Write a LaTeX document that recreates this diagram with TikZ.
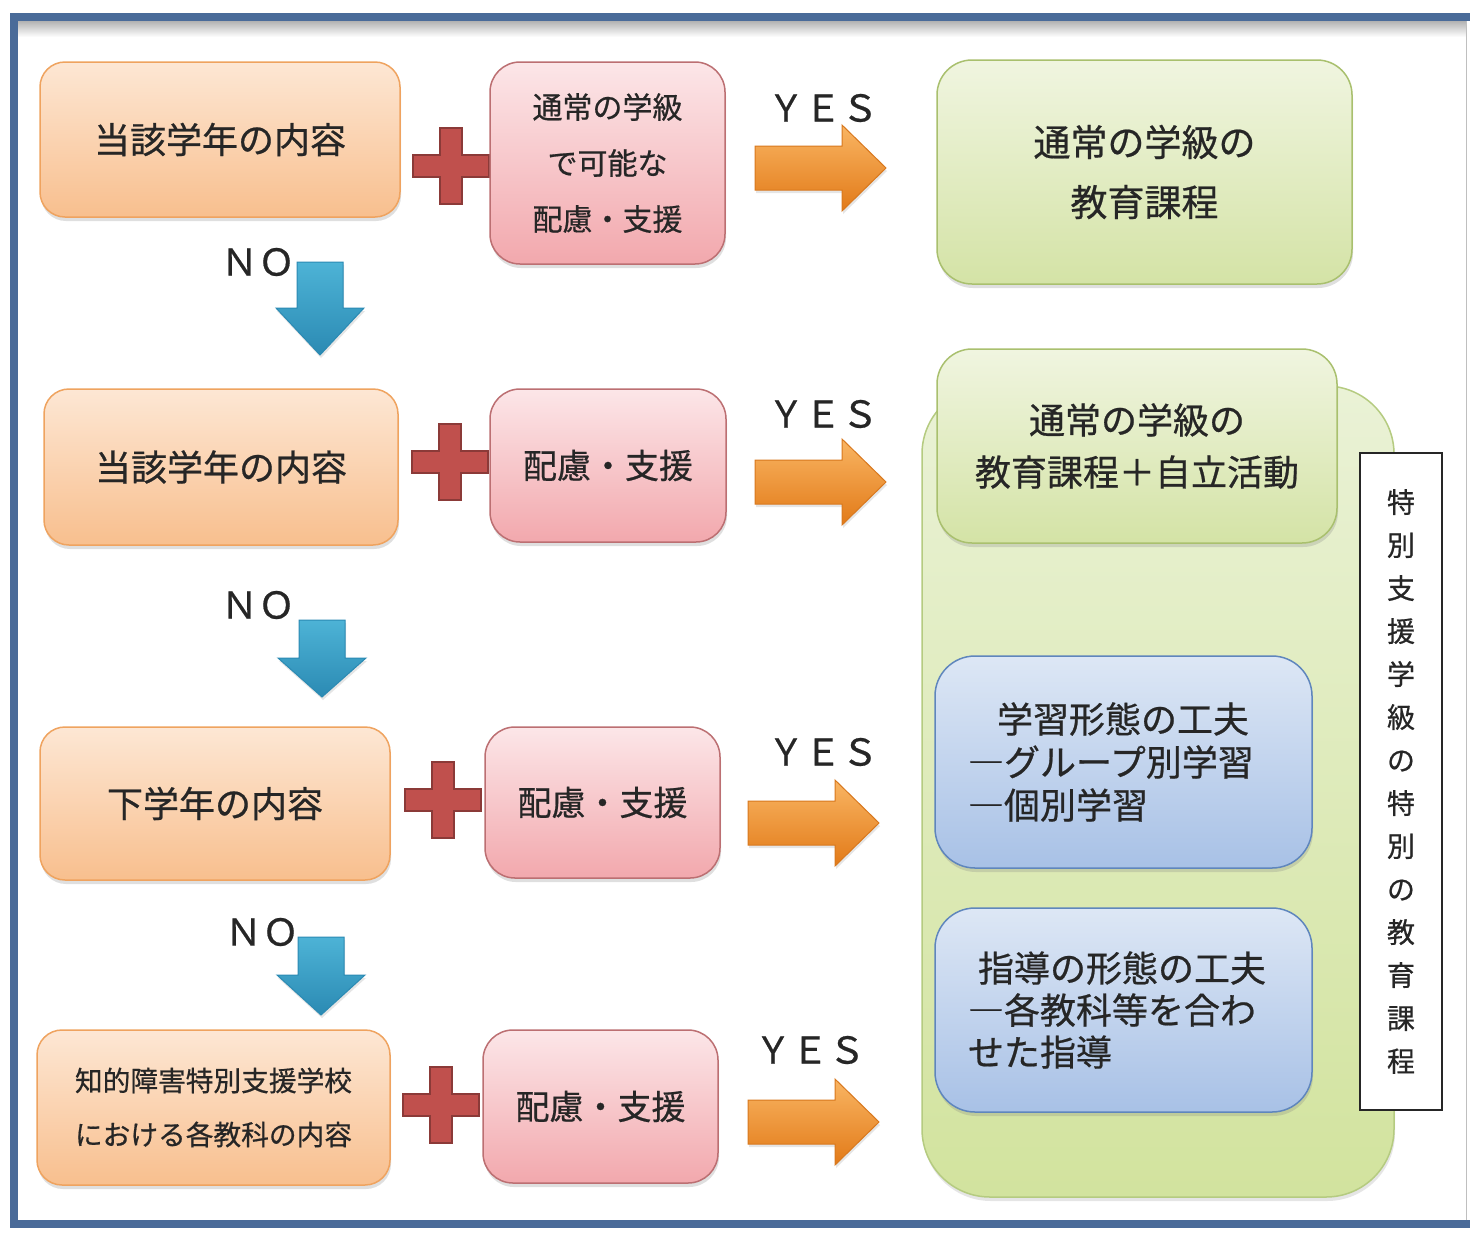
\documentclass[tikz,border=0pt]{standalone}
\usepackage{fontspec}
\setmainfont{Noto Sans CJK JP}[FakeBold=0.6]
\usetikzlibrary{shadows}
\definecolor{frame}{HTML}{4A6B99}
\definecolor{txt}{HTML}{262626}
\definecolor{otop}{HTML}{FDE7D4}
\definecolor{obot}{HTML}{F8BF8E}
\definecolor{oborder}{HTML}{EFA35F}
\definecolor{ptop}{HTML}{FCE6E8}
\definecolor{pbot}{HTML}{F2A8AD}
\definecolor{pborder}{HTML}{BC6F72}
\definecolor{gtop}{HTML}{F0F5E0}
\definecolor{gbot}{HTML}{D4E3A6}
\definecolor{gborder}{HTML}{A9C06E}
\definecolor{ctop}{HTML}{EAF2D6}
\definecolor{cbot}{HTML}{D2E39E}
\definecolor{cborder}{HTML}{B5CB80}
\definecolor{btop}{HTML}{DDE7F5}
\definecolor{bbot}{HTML}{A8C1E6}
\definecolor{bborder}{HTML}{5F86BD}
\definecolor{plusfill}{HTML}{C0504D}
\definecolor{plusdraw}{HTML}{8B3A38}
\definecolor{arrtop}{HTML}{F9B563}
\definecolor{arrbot}{HTML}{E27A18}
\definecolor{arrdraw}{HTML}{D8781E}
\definecolor{dntop}{HTML}{4DB3D6}
\definecolor{dnbot}{HTML}{2B8AB3}
\newcommand{\DnArrow}[4]{%
  \draw[dnarr] ({#1-23},{#2}) -- ({#1+23},{#2}) -- ({#1+23},{#2+#3}) -- ({#1+44},{#2+#3})
    -- ({#1},{#2+#4}) -- ({#1-44},{#2+#3}) -- ({#1-23},{#2+#3}) -- cycle;}
\begin{document}
\begin{tikzpicture}[x=1pt,y=-1pt,
  box/.style={rounded corners=25pt, line width=1.5pt, text=txt, align=center, inner sep=0pt,
    drop shadow={opacity=0.25,shadow xshift=1pt,shadow yshift=-4pt}},
  obox/.style={box, draw=oborder, top color=otop, bottom color=obot},
  pbox/.style={box, rounded corners=30pt, draw=pborder, top color=ptop, bottom color=pbot},
  gbox/.style={box, rounded corners=35pt, draw=gborder, top color=gtop, bottom color=gbot},
  bbox/.style={box, rounded corners=40pt, draw=bborder, top color=btop, bottom color=bbot, align=left},
  contbox/.style={rounded corners=68pt, line width=1.5pt, draw=cborder, top color=ctop, bottom color=cbot,
    drop shadow={opacity=0.2,shadow xshift=1pt,shadow yshift=-4pt}},
  lbl/.style={text=txt, font=\fontsize{37pt}{40pt}\selectfont, inner sep=0pt},
  plusstyle/.style={fill=plusfill, draw=plusdraw, line width=1.5pt},
  yesarr/.style={top color=arrtop, bottom color=arrbot, draw=arrdraw, line width=1pt,
    drop shadow={opacity=0.2,shadow xshift=1pt,shadow yshift=-3pt}},
  dnarr/.style={top color=dntop, bottom color=dnbot, draw=dnbot, line width=1pt,
    drop shadow={opacity=0.2,shadow xshift=1pt,shadow yshift=-3pt}},
  plusmark/.pic={\draw[plusstyle] (-11,-38) -- (11,-38) -- (11,-11) -- (38,-11) -- (38,11) -- (11,11)
    -- (11,38) -- (-11,38) -- (-11,11) -- (-38,11) -- (-38,-11) -- (-11,-11) -- cycle;},
  yesmark/.pic={\draw[yesarr] (0,-22) -- (87,-22) -- (87,-43) -- (131,0) -- (87,43) -- (87,22) -- (0,22) -- cycle;}
]
\useasboundingbox (0,0) rectangle (1470,1232);
\clip (0,0) rectangle (1470,1232);
\fill[white] (0,0) rectangle (1470,1232);
% frame
\shade[top color=black!30, bottom color=white] (18,21) rectangle (1466,37);
\draw[black!25, line width=1pt] (1466,21) -- (1466,1220);
\draw[frame, line width=8pt] (14,17) rectangle (1490,1224);

% container of special curriculum
\node[contbox, minimum width=472pt, minimum height=811pt] (cont) at (1158,791.5) {};

% row 1
\node[obox, minimum width=360pt, minimum height=155pt, font=\fontsize{36pt}{44pt}\selectfont] (a1) at (220,139.5) {当該学年の内容};
\pic at (451,166) {plusmark};
\node[pbox, minimum width=235pt, minimum height=202pt, font=\fontsize{30pt}{56pt}\selectfont] (b1) at (607.5,163) {通常の学級\\で可能な\\配慮・支援};
\node[lbl] (y1) at (823,108) {ＹＥＳ};
\pic at (755,168) {yesmark};
\node[gbox, minimum width=415pt, minimum height=224pt, font=\fontsize{37pt}{60pt}\selectfont] (c1) at (1144.5,172) {通常の学級の\\教育課程};

\node[lbl] (n1) at (258,262) {ＮＯ};
\DnArrow{320}{262}{46}{93}

% row 2
\node[obox, minimum width=354pt, minimum height=156pt, font=\fontsize{36pt}{44pt}\selectfont] (a2) at (221,467) {当該学年の内容};
\pic at (450,462) {plusmark};
\node[pbox, minimum width=236pt, minimum height=153pt, font=\fontsize{34pt}{44pt}\selectfont] (b2) at (608,465.5) {配慮・支援};
\node[lbl] (y2) at (823,414) {ＹＥＳ};
\pic at (755,482) {yesmark};
\node[gbox, minimum width=400pt, minimum height=194pt, font=\fontsize{36pt}{52pt}\selectfont] (c2) at (1137,446) {通常の学級の\\教育課程＋自立活動};

\node[lbl] (n2) at (258,605) {ＮＯ};
\DnArrow{322}{620}{38}{77}

% row 3
\node[obox, minimum width=350pt, minimum height=153pt, font=\fontsize{36pt}{44pt}\selectfont] (a3) at (215,803.5) {下学年の内容};
\pic at (443,800) {plusmark};
\node[pbox, minimum width=235pt, minimum height=151pt, font=\fontsize{34pt}{44pt}\selectfont] (b3) at (602.5,802.5) {配慮・支援};
\node[lbl] (y3) at (823,752) {ＹＥＳ};
\pic at (748,823) {yesmark};

\node[lbl] (n3) at (262,932) {ＮＯ};
\DnArrow{321}{937}{38}{78}

% row 4
\node[obox, minimum width=353pt, minimum height=155pt, font=\fontsize{27.7pt}{54pt}\selectfont] (a4) at (213.5,1107.5) {知的障害特別支援学校\\における各教科の内容};
\pic at (441,1105) {plusmark};
\node[pbox, minimum width=235pt, minimum height=153pt, font=\fontsize{34pt}{44pt}\selectfont] (b4) at (600.5,1106.5) {配慮・支援};
\node[lbl] (y4) at (810,1050) {ＹＥＳ};
\pic at (748,1122) {yesmark};

% blue boxes
\node[bbox, minimum width=377pt, minimum height=212pt, text width=311pt, inner xsep=33pt, font=\fontsize{36pt}{43pt}\selectfont] (d1) at (1123.5,762) {\hspace*{29pt}学習形態の工夫\\―グループ別学習\\―個別学習};
\node[bbox, minimum width=377pt, minimum height=204pt, text width=311pt, inner xsep=33pt, font=\fontsize{36pt}{42pt}\selectfont] (d2) at (1123.5,1010) {\hspace*{10pt}指導の形態の工夫\\―各教科等を合わ\\せた指導};

% vertical label
\node[draw=black!85, line width=2pt, fill=white, text=txt, minimum width=82pt, minimum height=657pt, align=center, inner sep=0pt,
  font=\fontsize{28pt}{43pt}\selectfont] (v) at (1401,781.5) {特\\別\\支\\援\\学\\級\\の\\特\\別\\の\\教\\育\\課\\程};
\end{tikzpicture}
\end{document}
